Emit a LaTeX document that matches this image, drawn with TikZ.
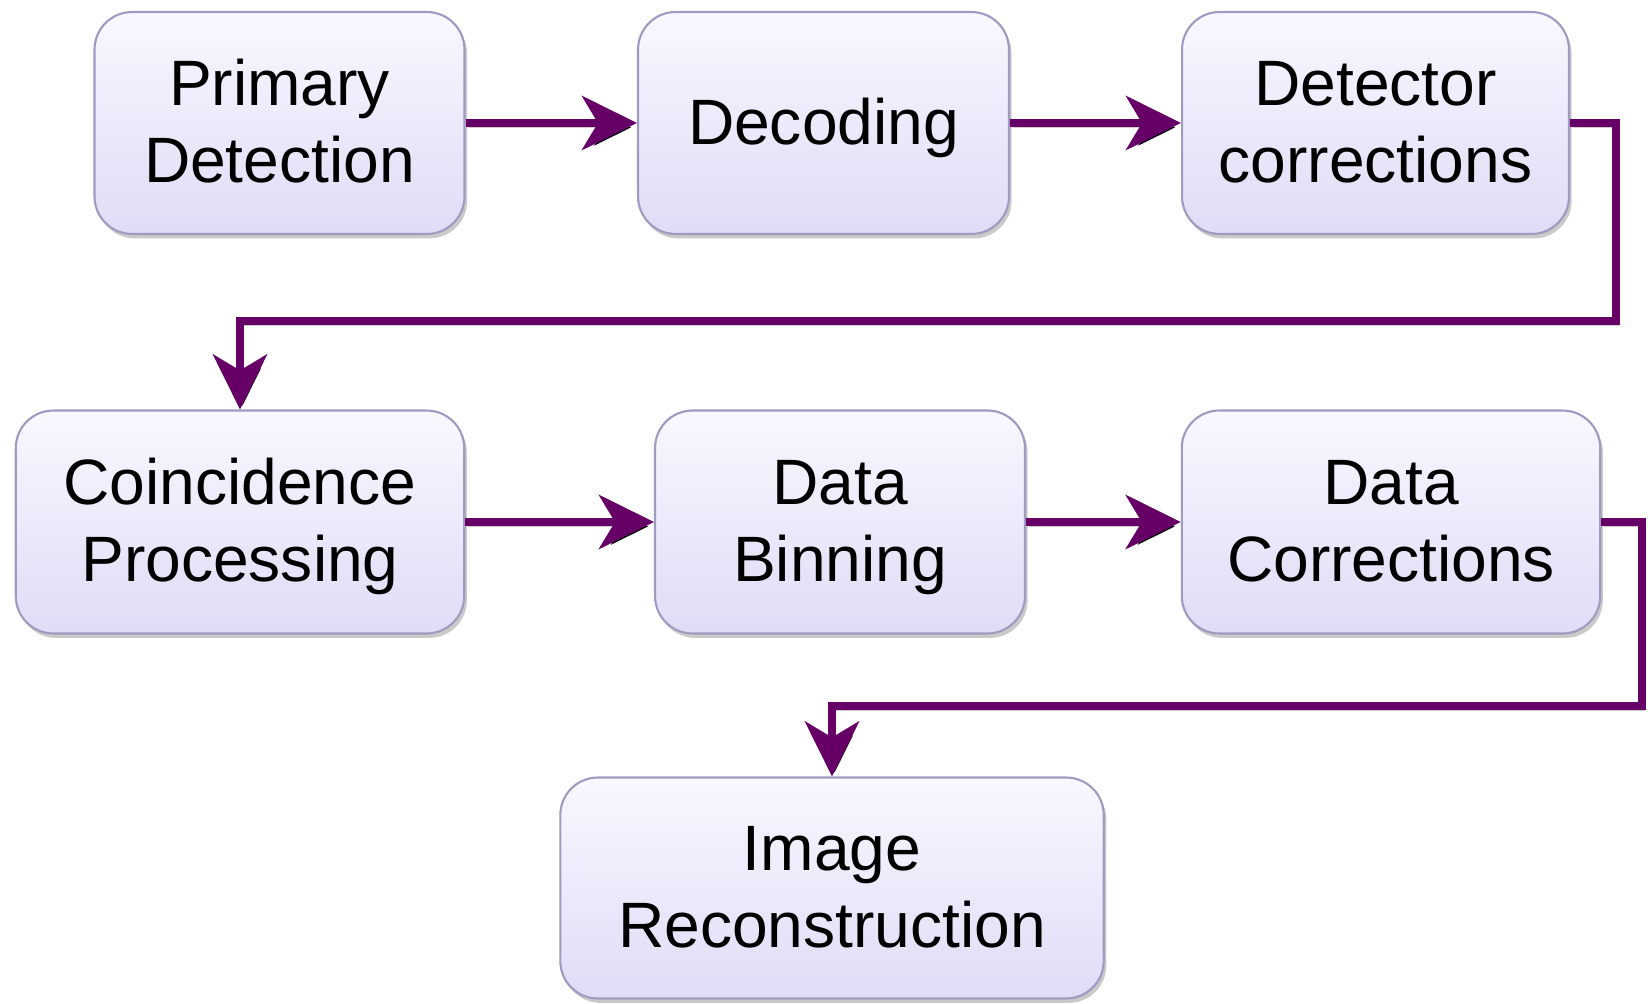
\documentclass[tikz,border=0pt]{standalone}
\usepackage{fontspec}
\setmainfont{Liberation Sans}
\usetikzlibrary{arrows.meta,shadows,positioning}
\definecolor{arrowpurple}{RGB}{102,0,102}
\definecolor{boxtop}{RGB}{249,247,255}
\definecolor{boxbot}{RGB}{224,220,246}
\definecolor{boxline}{RGB}{160,154,192}
\newcommand\lnx[1]{\rule[-3pt]{0pt}{30pt}\smash{#1}}
\tikzset{
  box/.style={rectangle, rounded corners=0.75cm, draw=boxline, line width=1.2pt,
    top color=boxtop, bottom color=boxbot, align=center, inner sep=0pt,
    font=\fontsize{36.5}{44}\selectfont,
    drop shadow={shadow xshift=1.5pt, shadow yshift=-2.5pt, opacity=0.35, fill=black!60}},
  conn/.style={draw=arrowpurple, line width=4.4pt,
    -{Stealth[length=1.1cm, width=1.08cm, inset=0.32cm]},
    preaction={draw=black, draw opacity=0.2, transform canvas={shift={(1.5pt,-2.5pt)}}}}
}
\begin{document}
\begin{tikzpicture}[x=0.02cm,y=-0.02cm]
\useasboundingbox (0,0) rectangle (1648,1003);
% row 1
\node[box, minimum width=7.40cm, minimum height=4.44cm] (pd) at (279.5,123) {\lnx{Primary}\\\lnx{Detection}};
\node[box, minimum width=7.42cm, minimum height=4.44cm] (dec) at (823.5,123) {\lnx{Decoding}};
\node[box, minimum width=7.74cm, minimum height=4.44cm] (det) at (1375.5,123) {\lnx{Detector}\\\lnx{corrections}};
% row 2
\node[box, minimum width=8.97cm, minimum height=4.46cm] (cp) at (240,522) {\lnx{Coincidence}\\\lnx{Processing}};
\node[box, minimum width=7.40cm, minimum height=4.46cm] (db) at (840,522) {\lnx{Data}\\\lnx{Binning}};
\node[box, minimum width=8.37cm, minimum height=4.46cm] (dc) at (1391,522) {\lnx{Data}\\\lnx{Corrections}};
% row 3
\node[box, minimum width=10.87cm, minimum height=4.42cm] (ir) at (832,888) {\lnx{Image}\\\lnx{Reconstruction}};
% elbows
\coordinate (e1) at (1616,321);
\coordinate (e2) at (1642,706);
% connectors
\draw[conn] (pd.east) -- (dec.west);
\draw[conn] (dec.east) -- (det.west);
\draw[conn] (det.east) -| (e1) -| (cp.north);
\draw[conn] (cp.east) -- (db.west);
\draw[conn] (db.east) -- (dc.west);
\draw[conn] (dc.east) -| (e2) -| (ir.north);
\end{tikzpicture}
\end{document}
